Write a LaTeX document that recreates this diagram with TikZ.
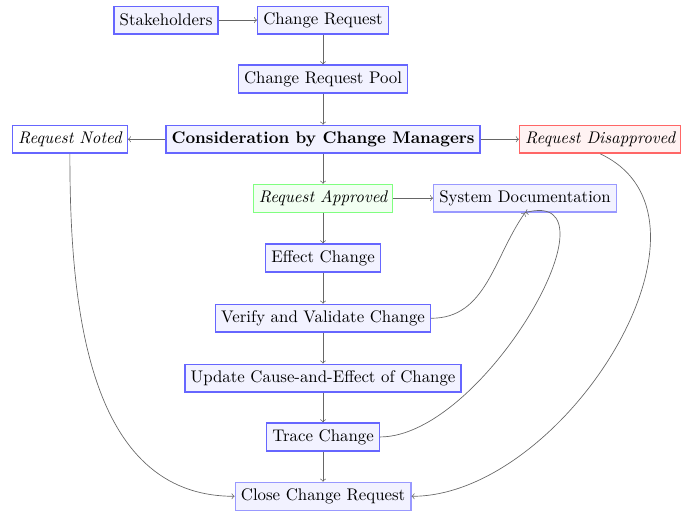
\documentclass[tikz,border=0pt]{standalone}
\usepackage{amsmath}
\usepackage{tikz}
\usetikzlibrary{arrows,calc}

\begin{document}
\begin{tikzpicture}[
  stage/.style={draw=blue!60, thick, fill=blue!5, minimum height=16.5pt},
  paler/.style={draw=blue!40, thick, fill=blue!5, minimum height=16.5pt},
  noted/.style={draw=blue!60, thick, fill=white, minimum height=16.5pt, font=\itshape},
  approved/.style={draw=green!50, semithick, fill=green!5, minimum height=16.5pt, font=\itshape},
  rejected/.style={draw=red!60, thick, fill=red!5, minimum height=16.5pt, font=\itshape},
  link/.style={->, draw=black!60}
]
\useasboundingbox (0,0) rectangle (14.48,-10.8);

\node[stage] (stake) at (3.47,-0.42) {Stakeholders};
\node[stage] (request) at (6.75,-0.42) {Change Request};
\node[stage] (pool) at (6.75,-1.65) {Change Request Pool};
\node[stage, font=\bfseries] (consider) at (6.75,-2.91) {Consideration by Change Managers};
\node[noted] (noted) at (1.46,-2.91) {Request Noted};
\node[rejected] (rejected) at (12.54,-2.91) {Request Disapproved};
\node[approved] (approved) at (6.75,-4.14) {Request Approved};
\node[paler] (sysdoc) at (10.97,-4.14) {System Documentation};
\node[stage] (effect) at (6.75,-5.39) {Effect Change};
\node[stage] (verify) at (6.75,-6.65) {Verify and Validate Change};
\node[stage] (update) at (6.75,-7.90) {Update Cause-and-Effect of Change};
\node[stage] (trace) at (6.75,-9.13) {Trace Change};
\node[paler] (close) at (6.75,-10.37) {Close Change Request};

\draw[link] (stake) -- (request);
\draw[link] (request) -- (pool);
\draw[link] (pool) -- (consider);
\draw[link] (consider) -- (noted);
\draw[link] (consider) -- (rejected);
\draw[link] (consider) -- (approved);
\draw[link] (approved) -- (sysdoc);
\draw[link] (approved) -- (effect);
\draw[link] (effect) -- (verify);
\draw[link] (verify) -- (update);
\draw[link] (update) -- (trace);
\draw[link] (trace) -- (close);

\draw[link] (verify.east) to[out=0,in=-125] (sysdoc.south);
\draw[link] (trace.east) to[out=0,in=15] (sysdoc.south);
\draw[link] (noted.south) to[out=-90,in=180] (close.west);
\draw[link] (rejected.south) to[out=-25,in=0] (close.east);
\end{tikzpicture}
\end{document}
